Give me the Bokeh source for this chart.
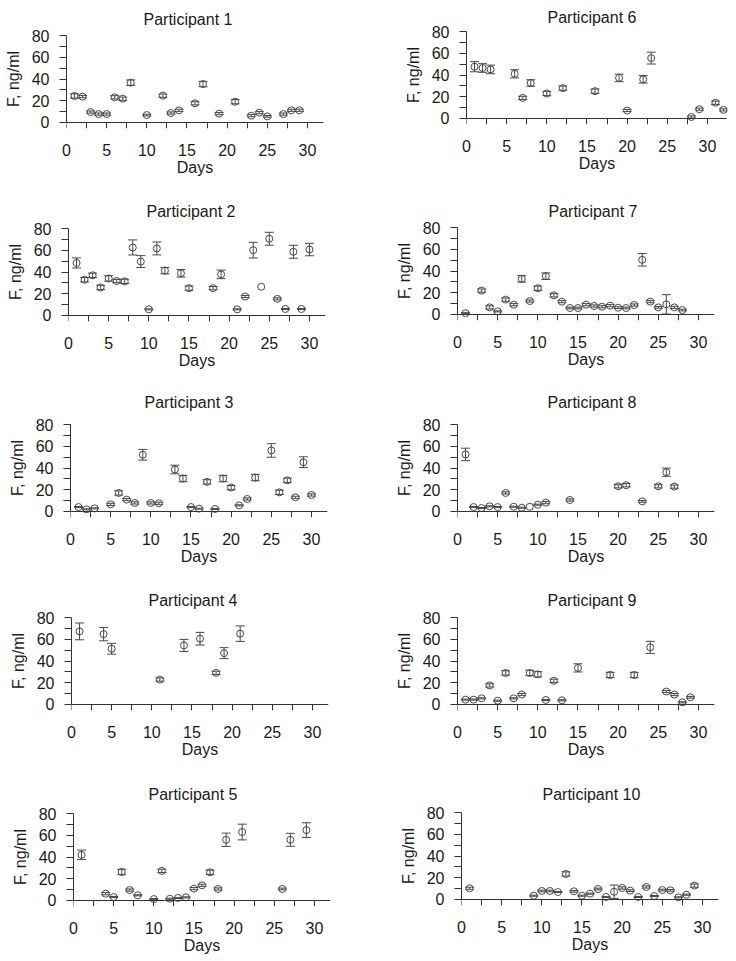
from bokeh.plotting import figure
from bokeh.layouts import column, row
from bokeh.models import Range1d, FixedTicker, ColumnDataSource, LinearAxis
from bokeh.embed import file_html
from bokeh.resources import INLINE

# ---------------- data ----------------
titles = ["Participant %d" % i for i in range(1, 11)]

p1_day = [1, 2, 3, 4, 5, 6, 7, 8, 10, 12, 13, 14, 16, 17, 19, 21, 23, 24, 25, 27, 28, 29]
p1_val = [24.2, 23.6, 9.3, 7.4, 7.4, 23.0, 21.7, 36.6, 6.5, 24.5, 8.4, 10.9, 17.4, 35.3, 7.8, 18.9, 5.9, 8.7, 5.3, 7.4, 10.9, 10.9]
p1_err = [2, 1, 1, 1, 1, 1.5, 1.5, 2.5, 0.8, 1.5, 1, 1, 1.5, 2.5, 1, 2, 1, 1, 0.8, 1, 1, 1]

p2_day = [1, 2, 3, 4, 5, 6, 7, 8, 9, 10, 11, 12, 14, 15, 18, 19, 21, 22, 23, 24, 25, 26, 27, 28, 29, 30]
p2_val = [48.4, 32.8, 36.9, 25.6, 34.0, 31.6, 31.3, 62.8, 49.7, 5.3, 61.9, 41.3, 38.8, 25.0, 25.0, 37.8, 5.3, 17.2, 60.3, 26.3, 70.9, 15.0, 5.6, 58.8, 5.6, 60.9]
p2_err = [4.7, 2, 2, 2, 2.5, 1.5, 2, 7, 5.5, 0.5, 6, 3, 3.5, 2, 1.5, 4, 0.5, 1, 7.3, 0, 6, 1, 0.5, 6, 0.5, 5.8]

p3_day = [1, 2, 3, 5, 6, 7, 8, 9, 10, 11, 13, 14, 15, 16, 17, 18, 19, 20, 21, 22, 23, 25, 26, 27, 28, 29, 30]
p3_val = [3.7, 1.6, 2.5, 6.2, 16.8, 10.6, 7.5, 52.3, 7.5, 7.2, 38.6, 30.2, 3.7, 2.2, 27.1, 1.9, 30.2, 21.8, 5.3, 11.2, 31.1, 56.3, 17.4, 28.6, 12.8, 45.4, 14.9]
p3_err = [0.5, 0.5, 0.5, 1, 2, 1, 1, 5, 1, 1, 4, 3, 0.5, 0.5, 2, 0.5, 3, 2, 0.5, 1, 3, 6.3, 2, 2, 1, 5, 1]

p4_day = [1, 4, 5, 11, 14, 16, 18, 19, 21]
p4_val = [67.5, 65.0, 51.4, 22.7, 54.5, 60.7, 29.0, 47.3, 65.4]
p4_err = [7.8, 6.2, 5, 1.5, 5.6, 5.9, 1.5, 5.1, 7.2]

p5_day = [1, 4, 5, 6, 7, 8, 10, 11, 12, 13, 14, 15, 16, 17, 18, 19, 21, 26, 27, 29]
p5_val = [42.0, 5.9, 2.8, 26.1, 9.3, 4.4, 0.9, 27.1, 1.2, 1.9, 2.5, 10.6, 13.7, 25.8, 10.3, 56.0, 63.2, 10.3, 56.0, 65.0]
p5_err = [4.4, 1, 0.5, 2.5, 1, 0.5, 0.5, 1.5, 0.5, 0.5, 0.5, 1, 1, 2, 1, 6.2, 7.3, 0.8, 6, 6.8]

p6_day = [1, 2, 3, 6, 7, 8, 10, 12, 16, 19, 20, 22, 23, 28, 29, 31, 32]
p6_val = [47.7, 46.5, 45.2, 41.1, 18.7, 32.6, 22.8, 27.8, 25.0, 37.3, 7.0, 36.0, 55.7, 1.0, 8.2, 14.2, 7.6]
p6_err = [4.7, 4, 4, 3.8, 1.5, 3, 2, 2, 2, 3.5, 1, 3.5, 5.5, 1, 1, 1.5, 1]

p7_day = [1, 3, 4, 5, 6, 7, 8, 9, 10, 11, 12, 13, 14, 15, 16, 17, 18, 19, 20, 21, 22, 23, 24, 25, 26, 27, 28]
p7_val = [0.8, 21.8, 6.2, 2.5, 13.4, 8.7, 32.7, 12.1, 24.0, 35.2, 17.4, 11.5, 5.6, 5.6, 8.7, 7.5, 6.8, 7.8, 5.9, 5.6, 8.4, 50.4, 11.5, 6.2, 9.0, 6.2, 3.7]
p7_err = [0.5, 1.5, 1.5, 0.5, 1.5, 1, 3, 1, 2, 3, 1.5, 1, 0.8, 0.8, 1, 1, 1, 1, 0.8, 0.8, 1, 5.8, 1, 0.8, 9, 1, 0.8]

p8_day = [1, 2, 3, 4, 5, 6, 7, 8, 9, 10, 11, 14, 20, 21, 23, 25, 26, 27]
p8_val = [52.6, 3.7, 2.8, 4.4, 3.7, 16.8, 4.0, 3.1, 4.0, 5.9, 7.8, 10.3, 23.0, 24.0, 9.0, 23.0, 36.1, 22.7]
p8_err = [5.8, 0.5, 0.5, 0.5, 0.5, 1, 0.5, 0.5, 0, 0.5, 1, 1, 1.5, 1.5, 0.8, 1.5, 3.8, 1.5]

p9_day = [1, 2, 3, 4, 5, 6, 7, 8, 9, 10, 11, 12, 13, 15, 19, 22, 24, 26, 27, 28, 29]
p9_val = [4.1, 4.1, 5.3, 17.3, 3.1, 28.9, 5.3, 8.8, 28.9, 27.6, 3.8, 21.6, 3.5, 33.6, 27.0, 27.0, 52.7, 11.6, 8.8, 1.6, 6.3]
p9_err = [0.5, 0.5, 0.5, 1.5, 0.5, 2, 0.5, 1, 2.5, 2.5, 0.5, 1.5, 0.5, 3.8, 2.5, 2.5, 5.6, 1, 1, 0.5, 0.8]

p10_day = [1, 9, 10, 11, 12, 13, 14, 15, 16, 17, 18, 19, 20, 21, 22, 23, 24, 25, 26, 27, 28, 29]
p10_val = [10.0, 3.1, 7.5, 7.5, 6.5, 23.3, 7.2, 3.1, 5.0, 9.3, 1.9, 6.8, 10.3, 7.8, 1.9, 11.2, 2.8, 8.4, 8.1, 1.6, 4.0, 12.5]
p10_err = [1, 0.5, 0.8, 0.8, 0.5, 2, 0.8, 0.5, 0.5, 0.8, 0.5, 6.2, 1, 0.8, 0.5, 1, 0.5, 0.8, 0.8, 0.5, 0.5, 1.5]

x_major = [0, 5, 10, 15, 20, 25, 30]
x_minor = [2.5, 7.5, 12.5, 17.5, 22.5, 27.5]
y_major = [0, 20, 40, 60, 80]
y_minor = [10, 30, 50, 70]

panels = [
    (p1_day, p1_val, p1_err), (p2_day, p2_val, p2_err), (p3_day, p3_val, p3_err),
    (p4_day, p4_val, p4_err), (p5_day, p5_val, p5_err), (p6_day, p6_val, p6_err),
    (p7_day, p7_val, p7_err), (p8_day, p8_val, p8_err), (p9_day, p9_val, p9_err),
    (p10_day, p10_val, p10_err),
]

# ---------------- layout / style ----------------
FONT = "Liberation Sans"
INK = "#1a1a1a"
AXIS = "#333333"
MARK = "#484848"
PXU = 8.03          # pixels per day
FRAME_H = 99        # y from -6 to 86
Y0, Y1 = -6, 86

row_heights = [192, 188, 202, 194, 185]
top_left = [29, 30, 38, 29, 31]
top_right = [25, 29, 38, 29, 30]
title_gap_left = [4, 6, 16, 6, 9]
title_gap_right = [0, 4, 16, 6, 8]
axis_px_left = [66, 68, 70, 71, 73]
axis_px_right = [466, 457, 457, 457, 461]
title_px_left = [143, 146, 144, 148, 148]
title_px_right = [547, 548, 547, 547, 542]
x_end_left = [32, 32, 32, 32, 32]
x_end_right = [32.5, 32, 32, 32, 32]
axis_end_left = [32, 32, 32, 32, 32]
axis_end_right = [32.4, 32, 32, 32, 32]


def style_text(ax):
    ax.major_label_text_font = FONT
    ax.major_label_text_font_size = "16px"
    ax.major_label_text_color = INK
    ax.axis_label_text_font = FONT
    ax.axis_label_text_font_size = "16px"
    ax.axis_label_text_font_style = "normal"
    ax.axis_label_text_color = INK


def make_fig(idx, height, bt, axis_px, col_x0, title_px, gap, x_end, axis_end):
    days, vals, errs = panels[idx]
    frame_w = int(round(x_end * PXU))
    mbl = axis_px - col_x0
    mbr = 368 - mbl - frame_w
    p = figure(width=368, height=height,
               x_range=Range1d(0, x_end), y_range=Range1d(Y0, Y1),
               output_backend="svg", toolbar_location=None,
               min_border_left=mbl, min_border_right=mbr,
               min_border_top=bt, min_border_bottom=height - bt - FRAME_H,
               title=titles[idx])
    if "frame_align" in p.properties():
        p.frame_align = False
    p.title.align = "left"
    p.title.offset = title_px - axis_px
    p.title.text_font = FONT
    p.title.text_font_size = "16px"
    p.title.text_font_style = "normal"
    p.title.text_color = INK
    p.title.standoff = gap

    p.xgrid.visible = False
    p.ygrid.visible = False
    p.outline_line_color = None
    p.background_fill_color = "white"
    p.border_fill_color = "white"

    lo = [v - e for v, e in zip(vals, errs)]
    hi = [v + e for v, e in zip(vals, errs)]
    keep = [i for i, e in enumerate(errs) if e > 0]
    src_e = ColumnDataSource(dict(x=[days[i] for i in keep],
                                  lo=[lo[i] for i in keep],
                                  hi=[hi[i] for i in keep]))
    src = ColumnDataSource(dict(x=days, y=vals))
    p.segment(x0="x", y0="lo", x1="x", y1="hi", source=src_e,
              line_color=MARK, line_width=1)
    p.scatter(x="x", y="lo", marker="dash", size=9, source=src_e,
              line_color=MARK, line_width=1)
    p.scatter(x="x", y="hi", marker="dash", size=9, source=src_e,
              line_color=MARK, line_width=1)
    p.scatter(x="x", y="y", marker="circle", size=7, source=src,
              line_color=MARK, line_width=1, fill_color=None)

    # x axis line and ticks, crossing at y = 0
    xa = p.xaxis[0]
    xa.fixed_location = 0
    xa.bounds = (0, axis_end)
    xa.ticker = FixedTicker(ticks=x_major, minor_ticks=x_minor)
    xa.major_tick_out = 6
    xa.minor_tick_out = 6
    xa.major_tick_in = 0
    xa.minor_tick_in = 0
    xa.axis_line_color = AXIS
    xa.major_tick_line_color = AXIS
    xa.minor_tick_line_color = AXIS
    xa.major_label_text_color = None

    # x tick labels and axis title, below the plot area
    xb = LinearAxis(ticker=FixedTicker(ticks=x_major, minor_ticks=[]),
                    axis_label="Days")
    xb.axis_line_color = None
    xb.major_tick_line_color = None
    xb.minor_tick_line_color = None
    xb.major_tick_out = 0
    xb.minor_tick_out = 0
    xb.major_tick_in = 0
    xb.minor_tick_in = 0
    xb.major_label_standoff = 15
    xb.axis_label_standoff = 0
    style_text(xb)
    p.add_layout(xb, "below")

    ya = p.yaxis[0]
    ya.bounds = (0, 80)
    ya.ticker = FixedTicker(ticks=y_major, minor_ticks=y_minor)
    ya.axis_label = "F, ng/ml"
    ya.major_tick_out = 7
    ya.minor_tick_out = 7
    ya.major_tick_in = 0
    ya.minor_tick_in = 0
    ya.major_label_standoff = 10
    ya.axis_label_standoff = 7
    ya.axis_line_color = AXIS
    ya.major_tick_line_color = AXIS
    ya.minor_tick_line_color = AXIS
    style_text(ya)
    return p


rows = []
for r in range(5):
    left = make_fig(r, row_heights[r], top_left[r], axis_px_left[r], 0,
                    title_px_left[r], title_gap_left[r], x_end_left[r], axis_end_left[r])
    right = make_fig(5 + r, row_heights[r], top_right[r], axis_px_right[r], 368,
                     title_px_right[r], title_gap_right[r], x_end_right[r], axis_end_right[r])
    rows.append(row(left, right))

layout = column(*rows)
open("out.html", "w").write(file_html(layout, INLINE))
